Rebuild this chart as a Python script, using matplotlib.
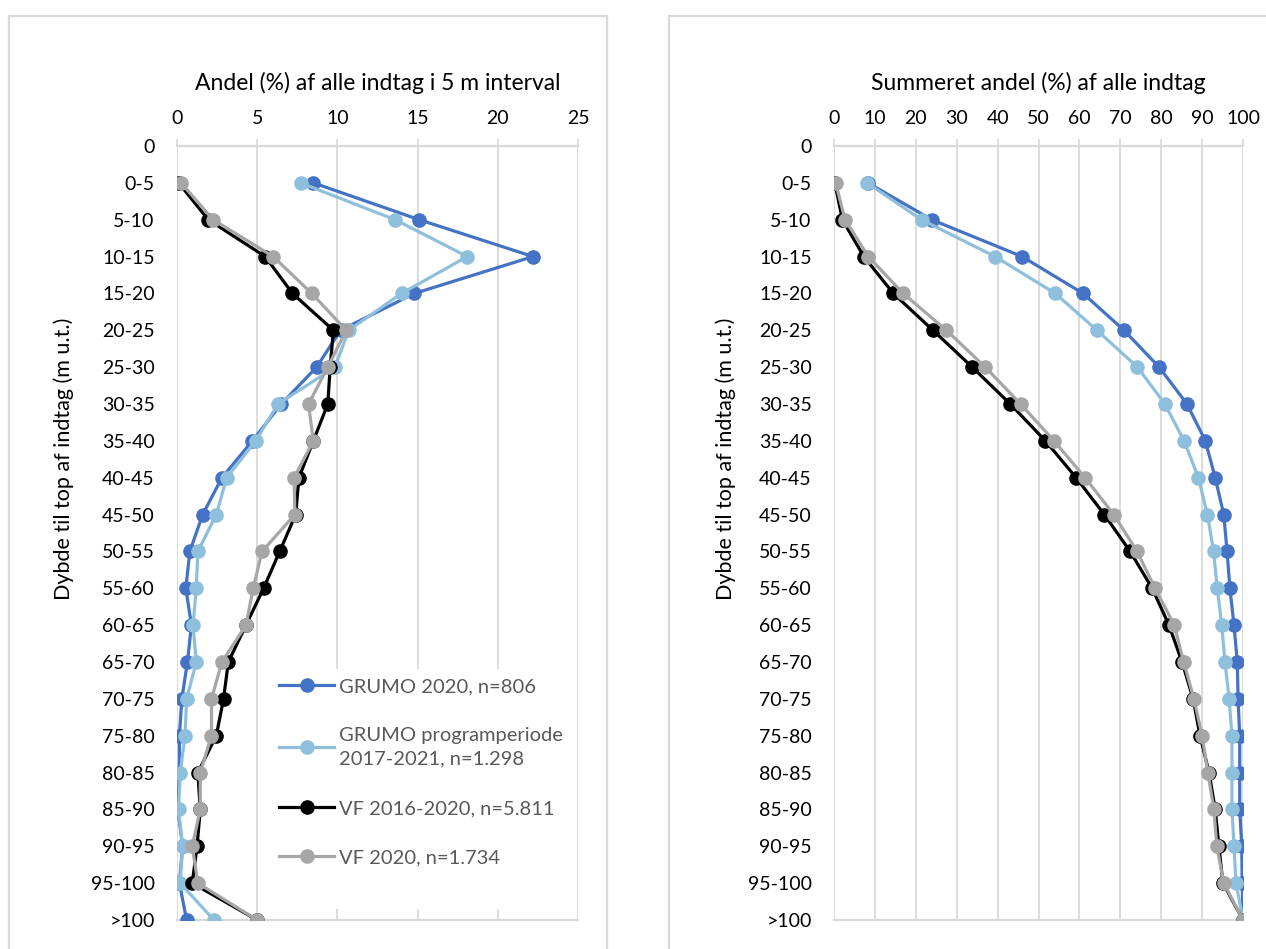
import matplotlib.pyplot as plt
import numpy as np
from matplotlib.patches import Rectangle

plt.rcParams['font.family'] = ['Lato', 'DejaVu Sans']

depth = ["0", "0-5", "5-10", "10-15", "15-20", "20-25", "25-30", "30-35", "35-40",
         "40-45", "45-50", "50-55", "55-60", "60-65", "65-70", "70-75", "75-80",
         "80-85", "85-90", "90-95", "95-100", ">100"]

names = ["GRUMO 2020, n=806",
         "GRUMO programperiode\n2017-2021, n=1.298",
         "VF 2016-2020, n=5.811",
         "VF 2020, n=1.734"]
colors = ["#4472C4", "#8EBFDD", "#000000", "#A6A6A6"]

# andel (%) i hvert 5 m interval, fra 0-5 til >100
grumo2020 = [8.5, 15.1, 22.2, 14.8, 10.2, 8.7, 6.5, 4.7, 2.8, 1.6, 0.8,
             0.55, 0.9, 0.65, 0.3, 0.15, 0.15, 0.05, 0.35, 0.15, 0.6]
grumo_prog = [7.7, 13.6, 18.1, 14.0, 10.7, 9.85, 6.3, 4.9, 3.1, 2.45, 1.3,
              1.2, 1.0, 1.2, 0.6, 0.5, 0.2, 0.1, 0.35, 0.2, 2.3]
vf_1620 = [0.1, 1.95, 5.5, 7.2, 9.75, 9.55, 9.4, 8.5, 7.6, 7.4, 6.4,
           5.4, 4.3, 3.2, 2.9, 2.45, 1.3, 1.45, 1.25, 0.95, 5.0]
vf_2020 = [0.25, 2.25, 6.0, 8.4, 10.55, 9.4, 8.2, 8.5, 7.3, 7.35, 5.3,
           4.75, 4.3, 2.8, 2.15, 2.15, 1.45, 1.45, 0.95, 1.3, 5.0]

# summeret andel (%)
grumo2020_sum = [8.3, 23.9, 46.0, 60.9, 70.9, 79.5, 86.3, 90.8, 93.2, 95.3, 96.1,
                 96.8, 97.8, 98.6, 98.8, 99.2, 99.2, 99.2, 99.7, 99.8, 100]
grumo_prog_sum = [8.1, 21.4, 39.4, 54.1, 64.3, 74.2, 80.9, 85.6, 89.1, 91.3, 92.8,
                  93.7, 94.8, 95.6, 96.6, 97.3, 97.3, 97.3, 97.8, 98.3, 100]
vf_1620_sum = [0.2, 2.05, 7.3, 14.5, 24.2, 33.8, 43.1, 51.7, 59.2, 66.1, 72.4,
               77.8, 81.9, 85.1, 87.8, 89.5, 91.7, 93.2, 94.1, 95.1, 100]
vf_2020_sum = [0.4, 2.7, 8.4, 16.9, 27.5, 37.0, 45.6, 53.8, 61.4, 68.4, 74.1,
               78.5, 83.2, 85.5, 88.0, 90.0, 91.4, 92.9, 93.6, 95.3, 100]

W, H = 1266, 949
grid_c = "#D9D9D9"

fig = plt.figure(figsize=(W / 100, H / 100), dpi=100)

# chart borders (Excel chart areas)
for x0, x1 in [(9, 607), (669, W + 20)]:
    fig.add_artist(Rectangle((x0 / W, -0.05), (x1 - x0) / W, 1.05 - 16 / H,
                             transform=fig.transFigure, fill=False,
                             edgecolor=grid_c, lw=1.6))


def make_ax(px0, px1, xmax, step, series, title):
    ax = fig.add_axes([px0 / W, 1 - 920 / H, (px1 - px0) / W, 774 / H])
    y = np.arange(1, len(depth))
    for vals, c, n in zip(series, colors, names):
        ax.plot(vals, y, color=c, lw=2.3, marker="o", ms=9.5, label=n, zorder=3)
    ax.set_xlim(0, xmax)
    ax.set_ylim(len(depth) - 1, 0)
    ax.set_xticks(np.arange(0, xmax + 1, step))
    ax.set_yticks(np.arange(len(depth)))
    ax.set_yticklabels(depth)
    ax.xaxis.tick_top()
    ax.xaxis.set_label_position("top")
    ax.tick_params(axis="x", length=5, width=1.3, color=grid_c, pad=9,
                   labelsize=14)
    ax.tick_params(axis="y", length=0, pad=16, labelsize=14)
    ax.grid(axis="x", color=grid_c, lw=1.3)
    ax.set_axisbelow(True)
    for s in ["left", "right"]:
        ax.spines[s].set_visible(False)
    for s in ["top", "bottom"]:
        ax.spines[s].set_color(grid_c)
        ax.spines[s].set_linewidth(1.6)
    ax.set_xlabel(title, fontsize=16.5, labelpad=14)
    return ax


ax1 = make_ax(177, 578, 25, 5, [grumo2020, grumo_prog, vf_1620, vf_2020],
              "Andel (%) af alle indtag i 5 m interval")
ax2 = make_ax(834, 1243, 100, 10,
              [grumo2020_sum, grumo_prog_sum, vf_1620_sum, vf_2020_sum],
              "Summeret andel (%) af alle indtag")

# white legend area covering the gridlines
ax1.add_patch(Rectangle((5.15, 14.2), 19.7, 6.5, facecolor="white",
                        edgecolor="none", zorder=1.5))
leg = ax1.legend(loc="upper left", bbox_to_anchor=(0.21, 0.336), frameon=False,
                 fontsize=14.5, handlelength=2.7, handletextpad=0.25,
                 labelspacing=1.6, labelcolor="#595959")
for t in leg.get_texts():
    t.set_linespacing(1.45)
leg.set_zorder(4)

for xc in [64, 726]:
    fig.text(xc / W, 1 - 459 / H, "Dybde til top af indtag (m u.t.)",
             rotation=90, ha="center", va="center", fontsize=15.5)

fig.savefig("out.png", dpi=100)
